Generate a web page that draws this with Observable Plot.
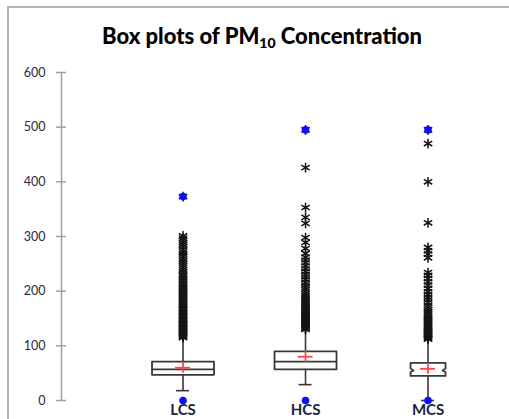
<!DOCTYPE html>
<html>
<head>
<meta charset="utf-8">
<script src="https://cdn.jsdelivr.net/npm/d3@7"></script>
<script src="https://cdn.jsdelivr.net/npm/@observablehq/plot@0.6"></script>
<style>
  html, body { margin: 0; padding: 0; background: #fff; }
  #wrap { position: relative; width: 509px; height: 419px; overflow: hidden; font-family: Lato, "Open Sans", sans-serif; }
  #frame { position: absolute; left: 7px; top: 6px; width: 520px; height: 430px; border-top: 2px solid #b4b4b4; border-left: 2px solid #b4b4b4; }
  #title { position: absolute; left: 0; top: 22px; width: 524px; text-align: center; font-weight: 900; font-size: 22px; color: #000; }
  #title sub { font-size: 14px; vertical-align: -4px; line-height: 0; }
  #chart { position: absolute; left: 0; top: 0; }
</style>
</head>
<body>
<div id="wrap">
  <div id="frame"></div>
  <div id="title">Box plots of PM<sub>10</sub> Concentration</div>
  <div id="chart"></div>
</div>
<script>
// ---- data ----
const categories = ["LCS", "HCS", "MCS"];
const q1 = [47, 57, 45];
const median = [57, 71, 55];
const q3 = [71, 90, 69];
const mean = [60, 80, 58];
const whiskerLow = [18, 29, 0];
const whiskerHigh = [113, 128, 110];
const minVal = [0, 0, 0];
const maxVal = [373, 495, 495];
const outliersLCS = [115, 117, 119, 121, 123, 126, 128, 130, 132, 134, 137, 139, 141, 143, 146, 148, 151, 153, 156, 158, 161, 163, 166, 168, 171, 174, 176, 179, 182, 185, 188, 190, 193, 196, 199, 202, 205, 208, 211, 214, 218, 221, 224, 228, 231, 235, 239, 243, 247, 251, 255, 259, 264, 268, 272, 276, 281, 285, 289, 293, 297, 301];
const outliersHCS = [130, 132, 134, 136, 138, 140, 142, 145, 147, 149, 152, 154, 157, 159, 162, 165, 168, 171, 174, 177, 180, 184, 187, 191, 195, 199, 203, 207, 211, 216, 221, 226, 231, 236, 241, 246, 252, 257, 262, 269, 278, 289, 298, 324, 335, 353, 426];
const outliersMCS = [112, 114, 116, 118, 120, 122, 124, 126, 129, 131, 134, 136, 139, 142, 145, 148, 151, 154, 158, 162, 166, 170, 174, 179, 184, 189, 194, 199, 205, 211, 217, 223, 229, 234, 261, 268, 274, 280, 325, 400, 470];
const yTicks = [0, 100, 200, 300, 400, 500, 600];

// ---- build tables ----
const outlierLists = [outliersLCS, outliersHCS, outliersMCS];
const outliers = outlierLists.flatMap((arr, i) => arr.concat([maxVal[i]]).map(v => ({i, v})));
const stats = categories.map((c, i) => ({i, c, q1: q1[i], med: median[i], q3: q3[i], mean: mean[i], lo: whiskerLow[i], hi: whiskerHigh[i], min: minVal[i], max: maxVal[i]}));

// style constants (pixel sizes converted to scale units)
const unit = 122.5;               // px per category step
const yUnit = 328 / 600;          // px per y unit
const xMin = -0.992, xMax = 2.665;
const halfW = [31 / unit, 31 / unit, 17.5 / unit];
const capHalf = 6.5 / unit;
const tickHalf = 5 / unit;
const notchX = 3 / unit;
const notchY = 3.5;
const plusHalfX = 7.5 / unit;
const plusHalfY = 5.5 / yUnit;

// box outlines
const boxPaths = [];
stats.forEach(s => {
  const hw = halfW[s.i];
  let pts;
  if (s.i === 2) {
    pts = [
      [s.i - hw, s.q1], [s.i + hw, s.q1], [s.i + hw, s.med - notchY], [s.i + hw - notchX, s.med],
      [s.i + hw, s.med + notchY], [s.i + hw, s.q3], [s.i - hw, s.q3], [s.i - hw, s.med + notchY],
      [s.i - hw + notchX, s.med], [s.i - hw, s.med - notchY], [s.i - hw, s.q1]
    ];
  } else {
    pts = [[s.i - hw, s.q1], [s.i + hw, s.q1], [s.i + hw, s.q3], [s.i - hw, s.q3], [s.i - hw, s.q1]];
  }
  pts.forEach(([x, y]) => boxPaths.push({x, y, k: s.i}));
});

const medianLines = stats.filter(s => s.i !== 2);
const lineCol = "#383838";

const plot = Plot.plot({
  width: 509,
  height: 419,
  marginLeft: 61,
  marginRight: 0,
  marginTop: 72,
  marginBottom: 19,
  style: {fontFamily: "Lato, 'Open Sans', sans-serif", background: "transparent"},
  x: {domain: [xMin, xMax], axis: null},
  y: {domain: [0, 600], axis: null},
  marks: [
    // y axis line and crossing ticks
    Plot.ruleX([xMin], {y1: 0, y2: 600, stroke: "#a0a0a0", strokeWidth: 1.5}),
    Plot.ruleY(yTicks, {x1: xMin - tickHalf, x2: xMin + tickHalf, stroke: "#a0a0a0", strokeWidth: 1.5}),
    Plot.text(yTicks, {x: xMin, y: d => d, text: d => String(d), textAnchor: "end", dx: -16, fontSize: 12.5, fill: "#2a2a3c"}),
    // whiskers
    Plot.ruleX(stats, {x: "i", y1: "q3", y2: "hi", stroke: lineCol, strokeWidth: 1.6}),
    Plot.ruleX(stats, {x: "i", y1: "lo", y2: "q1", stroke: lineCol, strokeWidth: 1.6}),
    Plot.ruleY(stats, {y: "lo", x1: d => d.i - capHalf, x2: d => d.i + capHalf, stroke: lineCol, strokeWidth: 1.6}),
    // boxes
    Plot.line(boxPaths, {x: "x", y: "y", z: "k", stroke: lineCol, strokeWidth: 1.8, curve: "linear"}),
    Plot.ruleY(medianLines, {y: "med", x1: d => d.i - halfW[d.i], x2: d => d.i + halfW[d.i], stroke: lineCol, strokeWidth: 1.8}),
    // outliers
    Plot.dot(outliers, {x: "i", y: "v", symbol: "asterisk", r: 4.6, stroke: "#151515", strokeWidth: 1.5}),
    // mean (red plus)
    Plot.ruleY(stats, {y: "mean", x1: d => d.i - plusHalfX, x2: d => d.i + plusHalfX, stroke: "#ff4545", strokeWidth: 1.8}),
    Plot.ruleX(stats, {x: "i", y1: d => d.mean - plusHalfY, y2: d => d.mean + plusHalfY, stroke: "#ff4545", strokeWidth: 1.8}),
    // max points
    Plot.dot(stats, {x: "i", y: "max", r: 3.8, fill: "#0a10ff"}),
    // category labels
    Plot.text(stats, {x: "i", y: 0, text: "c", dy: 10, fontSize: 15, fontWeight: "bold", fill: "#1c2340"}),
    // min points
    Plot.dot(stats, {x: "i", y: "min", r: 3.8, fill: "#0a10ff"})
  ]
});
document.getElementById("chart").appendChild(plot);
</script>
</body>
</html>
